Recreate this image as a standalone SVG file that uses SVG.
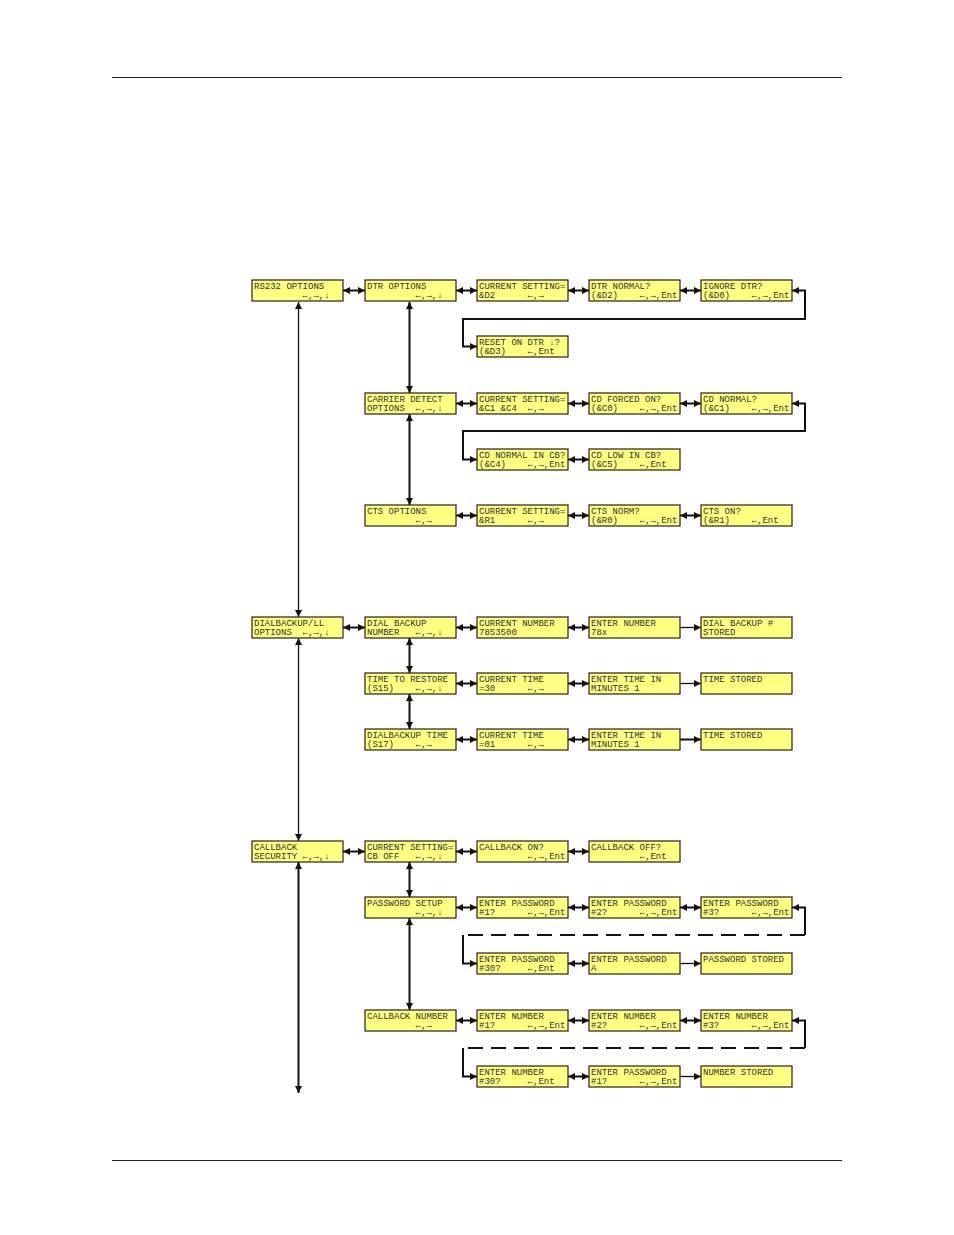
<svg xmlns="http://www.w3.org/2000/svg" width="954" height="1235" viewBox="0 0 954 1235">
<style>
.n rect{fill:#ffff80;stroke:#222;stroke-width:1.2}
.n text{font-family:"Liberation Mono","DejaVu Sans Mono",monospace;font-size:9px;fill:#333;white-space:pre}
.c{stroke:#111;stroke-width:2;fill:none}
.thin{stroke-width:1.3}
.d{stroke-dasharray:15 8}
.rule{stroke:#222;stroke-width:1.2}
</style>
<defs>
<marker id="a" viewBox="0 0 10 10" refX="10" refY="5" markerWidth="8" markerHeight="7" markerUnits="userSpaceOnUse" orient="auto-start-reverse"><path d="M0,0 L10,5 L0,10 z" fill="#111"/></marker>
</defs>
<line class="rule" x1="112" y1="77.5" x2="842" y2="77.5"/>
<line class="rule" x1="112" y1="1160.5" x2="842" y2="1160.5"/>

<g id="connectors">
<path class="c" d="M343,290.5H365" marker-start="url(#a)" marker-end="url(#a)"/>
<path class="c" d="M456,290.5H477" marker-start="url(#a)" marker-end="url(#a)"/>
<path class="c" d="M568,290.5H589" marker-start="url(#a)" marker-end="url(#a)"/>
<path class="c" d="M680,290.5H701" marker-start="url(#a)" marker-end="url(#a)"/>
<path class="c" d="M792,290.5H805V319H463V346.5H477" marker-start="url(#a)" marker-end="url(#a)"/>
<path class="c" d="M456,403.5H477" marker-start="url(#a)" marker-end="url(#a)"/>
<path class="c" d="M568,403.5H589" marker-start="url(#a)" marker-end="url(#a)"/>
<path class="c" d="M680,403.5H701" marker-start="url(#a)" marker-end="url(#a)"/>
<path class="c" d="M792,403.5H805V431H463V459.5H477" marker-start="url(#a)" marker-end="url(#a)"/>
<path class="c" d="M568,459.5H589" marker-start="url(#a)" marker-end="url(#a)"/>
<path class="c" d="M456,515.5H477" marker-start="url(#a)" marker-end="url(#a)"/>
<path class="c" d="M568,515.5H589" marker-start="url(#a)" marker-end="url(#a)"/>
<path class="c" d="M680,515.5H701" marker-start="url(#a)" marker-end="url(#a)"/>
<path class="c" d="M343,627.5H365" marker-start="url(#a)" marker-end="url(#a)"/>
<path class="c" d="M456,627.5H477" marker-start="url(#a)" marker-end="url(#a)"/>
<path class="c" d="M568,627.5H589" marker-start="url(#a)" marker-end="url(#a)"/>
<path class="c thin" d="M680,627.5H701" marker-end="url(#a)"/>
<path class="c" d="M456,683.5H477" marker-start="url(#a)" marker-end="url(#a)"/>
<path class="c" d="M568,683.5H589" marker-start="url(#a)" marker-end="url(#a)"/>
<path class="c thin" d="M680,683.5H701" marker-end="url(#a)"/>
<path class="c" d="M456,739.5H477" marker-start="url(#a)" marker-end="url(#a)"/>
<path class="c" d="M568,739.5H589" marker-start="url(#a)" marker-end="url(#a)"/>
<path class="c" d="M680,739.5H701" marker-end="url(#a)"/>
<path class="c" d="M343,851.5H365" marker-start="url(#a)" marker-end="url(#a)"/>
<path class="c" d="M456,851.5H477" marker-start="url(#a)" marker-end="url(#a)"/>
<path class="c" d="M568,851.5H589" marker-start="url(#a)" marker-end="url(#a)"/>
<path class="c" d="M456,907.5H477" marker-start="url(#a)" marker-end="url(#a)"/>
<path class="c" d="M568,907.5H589" marker-start="url(#a)" marker-end="url(#a)"/>
<path class="c" d="M680,907.5H701" marker-start="url(#a)" marker-end="url(#a)"/>
<path class="c" d="M792,907.5H805V935" marker-start="url(#a)"/>
<path class="c d" d="M805,935H463"/>
<path class="c" d="M463,935V963.5H477" marker-end="url(#a)"/>
<path class="c" d="M568,963.5H589" marker-start="url(#a)" marker-end="url(#a)"/>
<path class="c thin" d="M680,963.5H701" marker-end="url(#a)"/>
<path class="c" d="M456,1020.5H477" marker-start="url(#a)" marker-end="url(#a)"/>
<path class="c" d="M568,1020.5H589" marker-start="url(#a)" marker-end="url(#a)"/>
<path class="c" d="M680,1020.5H701" marker-start="url(#a)" marker-end="url(#a)"/>
<path class="c" d="M792,1020.5H805V1048" marker-start="url(#a)"/>
<path class="c d" d="M805,1048H463"/>
<path class="c" d="M463,1048V1076.5H477" marker-end="url(#a)"/>
<path class="c" d="M568,1076.5H589" marker-start="url(#a)" marker-end="url(#a)"/>
<path class="c thin" d="M680,1076.5H701" marker-end="url(#a)"/>
<path class="c" d="M409.5,302V393" marker-start="url(#a)" marker-end="url(#a)"/>
<path class="c" d="M409.5,414V505" marker-start="url(#a)" marker-end="url(#a)"/>
<path class="c" d="M409.5,638V673" marker-start="url(#a)" marker-end="url(#a)"/>
<path class="c" d="M409.5,694V729" marker-start="url(#a)" marker-end="url(#a)"/>
<path class="c" d="M409.5,862V897" marker-start="url(#a)" marker-end="url(#a)"/>
<path class="c" d="M409.5,918V1010" marker-start="url(#a)" marker-end="url(#a)"/>
<path class="c thin" d="M298.5,302V617" marker-start="url(#a)" marker-end="url(#a)"/>
<path class="c thin" d="M298.5,638V841" marker-start="url(#a)" marker-end="url(#a)"/>
<path class="c" d="M298.5,862V1093" marker-start="url(#a)" marker-end="url(#a)"/>
</g>

<g id="rs232" class="n"><rect x="252" y="280" width="91" height="21"/><text x="254" y="289">RS232 OPTIONS</text><text x="254" y="297.5">         ←,→,↓</text></g>
<g id="dtr" class="n"><rect x="365" y="280" width="91" height="21"/><text x="367" y="289">DTR OPTIONS</text><text x="367" y="297.5">         ←,→,↓</text></g>
<g id="dtr_cur" class="n"><rect x="477" y="280" width="91" height="21"/><text x="479" y="289">CURRENT SETTING=</text><text x="479" y="297.5">&amp;D2      ←,→</text></g>
<g id="dtr_norm" class="n"><rect x="589" y="280" width="91" height="21"/><text x="591" y="289">DTR NORMAL?</text><text x="591" y="297.5">(&amp;D2)    ←,→,Ent</text></g>
<g id="dtr_ign" class="n"><rect x="701" y="280" width="91" height="21"/><text x="703" y="289">IGNORE DTR?</text><text x="703" y="297.5">(&amp;D0)    ←,→,Ent</text></g>
<g id="dtr_reset" class="n"><rect x="477" y="336" width="91" height="21"/><text x="479" y="345">RESET ON DTR ↓?</text><text x="479" y="353.5">(&amp;D3)    ←,Ent</text></g>

<g id="cd" class="n"><rect x="365" y="393" width="91" height="21"/><text x="367" y="402">CARRIER DETECT</text><text x="367" y="410.5">OPTIONS  ←,→,↓</text></g>
<g id="cd_cur" class="n"><rect x="477" y="393" width="91" height="21"/><text x="479" y="402">CURRENT SETTING=</text><text x="479" y="410.5">&amp;C1 &amp;C4  ←,→</text></g>
<g id="cd_forced" class="n"><rect x="589" y="393" width="91" height="21"/><text x="591" y="402">CD FORCED ON?</text><text x="591" y="410.5">(&amp;C0)    ←,→,Ent</text></g>
<g id="cd_norm" class="n"><rect x="701" y="393" width="91" height="21"/><text x="703" y="402">CD NORMAL?</text><text x="703" y="410.5">(&amp;C1)    ←,→,Ent</text></g>
<g id="cd_normcb" class="n"><rect x="477" y="449" width="91" height="21"/><text x="479" y="458">CD NORMAL IN CB?</text><text x="479" y="466.5">(&amp;C4)    ←,→,Ent</text></g>
<g id="cd_lowcb" class="n"><rect x="589" y="449" width="91" height="21"/><text x="591" y="458">CD LOW IN CB?</text><text x="591" y="466.5">(&amp;C5)    ←,Ent</text></g>

<g id="cts" class="n"><rect x="365" y="505" width="91" height="21"/><text x="367" y="514">CTS OPTIONS</text><text x="367" y="522.5">         ←,→</text></g>
<g id="cts_cur" class="n"><rect x="477" y="505" width="91" height="21"/><text x="479" y="514">CURRENT SETTING=</text><text x="479" y="522.5">&amp;R1      ←,→</text></g>
<g id="cts_norm" class="n"><rect x="589" y="505" width="91" height="21"/><text x="591" y="514">CTS NORM?</text><text x="591" y="522.5">(&amp;R0)    ←,→,Ent</text></g>
<g id="cts_on" class="n"><rect x="701" y="505" width="91" height="21"/><text x="703" y="514">CTS ON?</text><text x="703" y="522.5">(&amp;R1)    ←,Ent</text></g>

<g id="dial" class="n"><rect x="252" y="617" width="91" height="21"/><text x="254" y="626">DIALBACKUP/LL</text><text x="254" y="634.5">OPTIONS  ←,→,↓</text></g>
<g id="dial_num" class="n"><rect x="365" y="617" width="91" height="21"/><text x="367" y="626">DIAL BACKUP</text><text x="367" y="634.5">NUMBER   ←,→,↓</text></g>
<g id="dial_cur" class="n"><rect x="477" y="617" width="91" height="21"/><text x="479" y="626">CURRENT NUMBER</text><text x="479" y="634.5">7853500</text></g>
<g id="dial_enter" class="n"><rect x="589" y="617" width="91" height="21"/><text x="591" y="626">ENTER NUMBER</text><text x="591" y="634.5">78x</text></g>
<g id="dial_stored" class="n"><rect x="701" y="617" width="91" height="21"/><text x="703" y="626">DIAL BACKUP #</text><text x="703" y="634.5">STORED</text></g>

<g id="ttr" class="n"><rect x="365" y="673" width="91" height="21"/><text x="367" y="682">TIME TO RESTORE</text><text x="367" y="690.5">(S15)    ←,→,↓</text></g>
<g id="ttr_cur" class="n"><rect x="477" y="673" width="91" height="21"/><text x="479" y="682">CURRENT TIME</text><text x="479" y="690.5">=30      ←,→</text></g>
<g id="ttr_enter" class="n"><rect x="589" y="673" width="91" height="21"/><text x="591" y="682">ENTER TIME IN</text><text x="591" y="690.5">MINUTES 1</text></g>
<g id="ttr_stored" class="n"><rect x="701" y="673" width="91" height="21"/><text x="703" y="682">TIME STORED</text></g>

<g id="dbt" class="n"><rect x="365" y="729" width="91" height="21"/><text x="367" y="738">DIALBACKUP TIME</text><text x="367" y="746.5">(S17)    ←,→</text></g>
<g id="dbt_cur" class="n"><rect x="477" y="729" width="91" height="21"/><text x="479" y="738">CURRENT TIME</text><text x="479" y="746.5">=01      ←,→</text></g>
<g id="dbt_enter" class="n"><rect x="589" y="729" width="91" height="21"/><text x="591" y="738">ENTER TIME IN</text><text x="591" y="746.5">MINUTES 1</text></g>
<g id="dbt_stored" class="n"><rect x="701" y="729" width="91" height="21"/><text x="703" y="738">TIME STORED</text></g>

<g id="cb" class="n"><rect x="252" y="841" width="91" height="21"/><text x="254" y="850">CALLBACK</text><text x="254" y="858.5">SECURITY ←,→,↓</text></g>
<g id="cb_cur" class="n"><rect x="365" y="841" width="91" height="21"/><text x="367" y="850">CURRENT SETTING=</text><text x="367" y="858.5">CB OFF   ←,→,↓</text></g>
<g id="cb_on" class="n"><rect x="477" y="841" width="91" height="21"/><text x="479" y="850">CALLBACK ON?</text><text x="479" y="858.5">         ←,→,Ent</text></g>
<g id="cb_off" class="n"><rect x="589" y="841" width="91" height="21"/><text x="591" y="850">CALLBACK OFF?</text><text x="591" y="858.5">         ←,Ent</text></g>

<g id="pw" class="n"><rect x="365" y="897" width="91" height="21"/><text x="367" y="906">PASSWORD SETUP</text><text x="367" y="914.5">         ←,→,↓</text></g>
<g id="pw1" class="n"><rect x="477" y="897" width="91" height="21"/><text x="479" y="906">ENTER PASSWORD</text><text x="479" y="914.5">#1?      ←,→,Ent</text></g>
<g id="pw2" class="n"><rect x="589" y="897" width="91" height="21"/><text x="591" y="906">ENTER PASSWORD</text><text x="591" y="914.5">#2?      ←,→,Ent</text></g>
<g id="pw3" class="n"><rect x="701" y="897" width="91" height="21"/><text x="703" y="906">ENTER PASSWORD</text><text x="703" y="914.5">#3?      ←,→,Ent</text></g>
<g id="pw30" class="n"><rect x="477" y="953" width="91" height="21"/><text x="479" y="962">ENTER PASSWORD</text><text x="479" y="970.5">#30?     ←,Ent</text></g>
<g id="pw_a" class="n"><rect x="589" y="953" width="91" height="21"/><text x="591" y="962">ENTER PASSWORD</text><text x="591" y="970.5">A</text></g>
<g id="pw_stored" class="n"><rect x="701" y="953" width="91" height="21"/><text x="703" y="962">PASSWORD STORED</text></g>

<g id="cbn" class="n"><rect x="365" y="1010" width="91" height="21"/><text x="367" y="1019">CALLBACK NUMBER</text><text x="367" y="1027.5">         ←,→</text></g>
<g id="cbn1" class="n"><rect x="477" y="1010" width="91" height="21"/><text x="479" y="1019">ENTER NUMBER</text><text x="479" y="1027.5">#1?      ←,→,Ent</text></g>
<g id="cbn2" class="n"><rect x="589" y="1010" width="91" height="21"/><text x="591" y="1019">ENTER NUMBER</text><text x="591" y="1027.5">#2?      ←,→,Ent</text></g>
<g id="cbn3" class="n"><rect x="701" y="1010" width="91" height="21"/><text x="703" y="1019">ENTER NUMBER</text><text x="703" y="1027.5">#3?      ←,→,Ent</text></g>
<g id="cbn30" class="n"><rect x="477" y="1066" width="91" height="21"/><text x="479" y="1075">ENTER NUMBER</text><text x="479" y="1083.5">#30?     ←,Ent</text></g>
<g id="cbn_pw" class="n"><rect x="589" y="1066" width="91" height="21"/><text x="591" y="1075">ENTER PASSWORD</text><text x="591" y="1083.5">#1?      ←,→,Ent</text></g>
<g id="cbn_stored" class="n"><rect x="701" y="1066" width="91" height="21"/><text x="703" y="1075">NUMBER STORED</text></g>
</svg>
